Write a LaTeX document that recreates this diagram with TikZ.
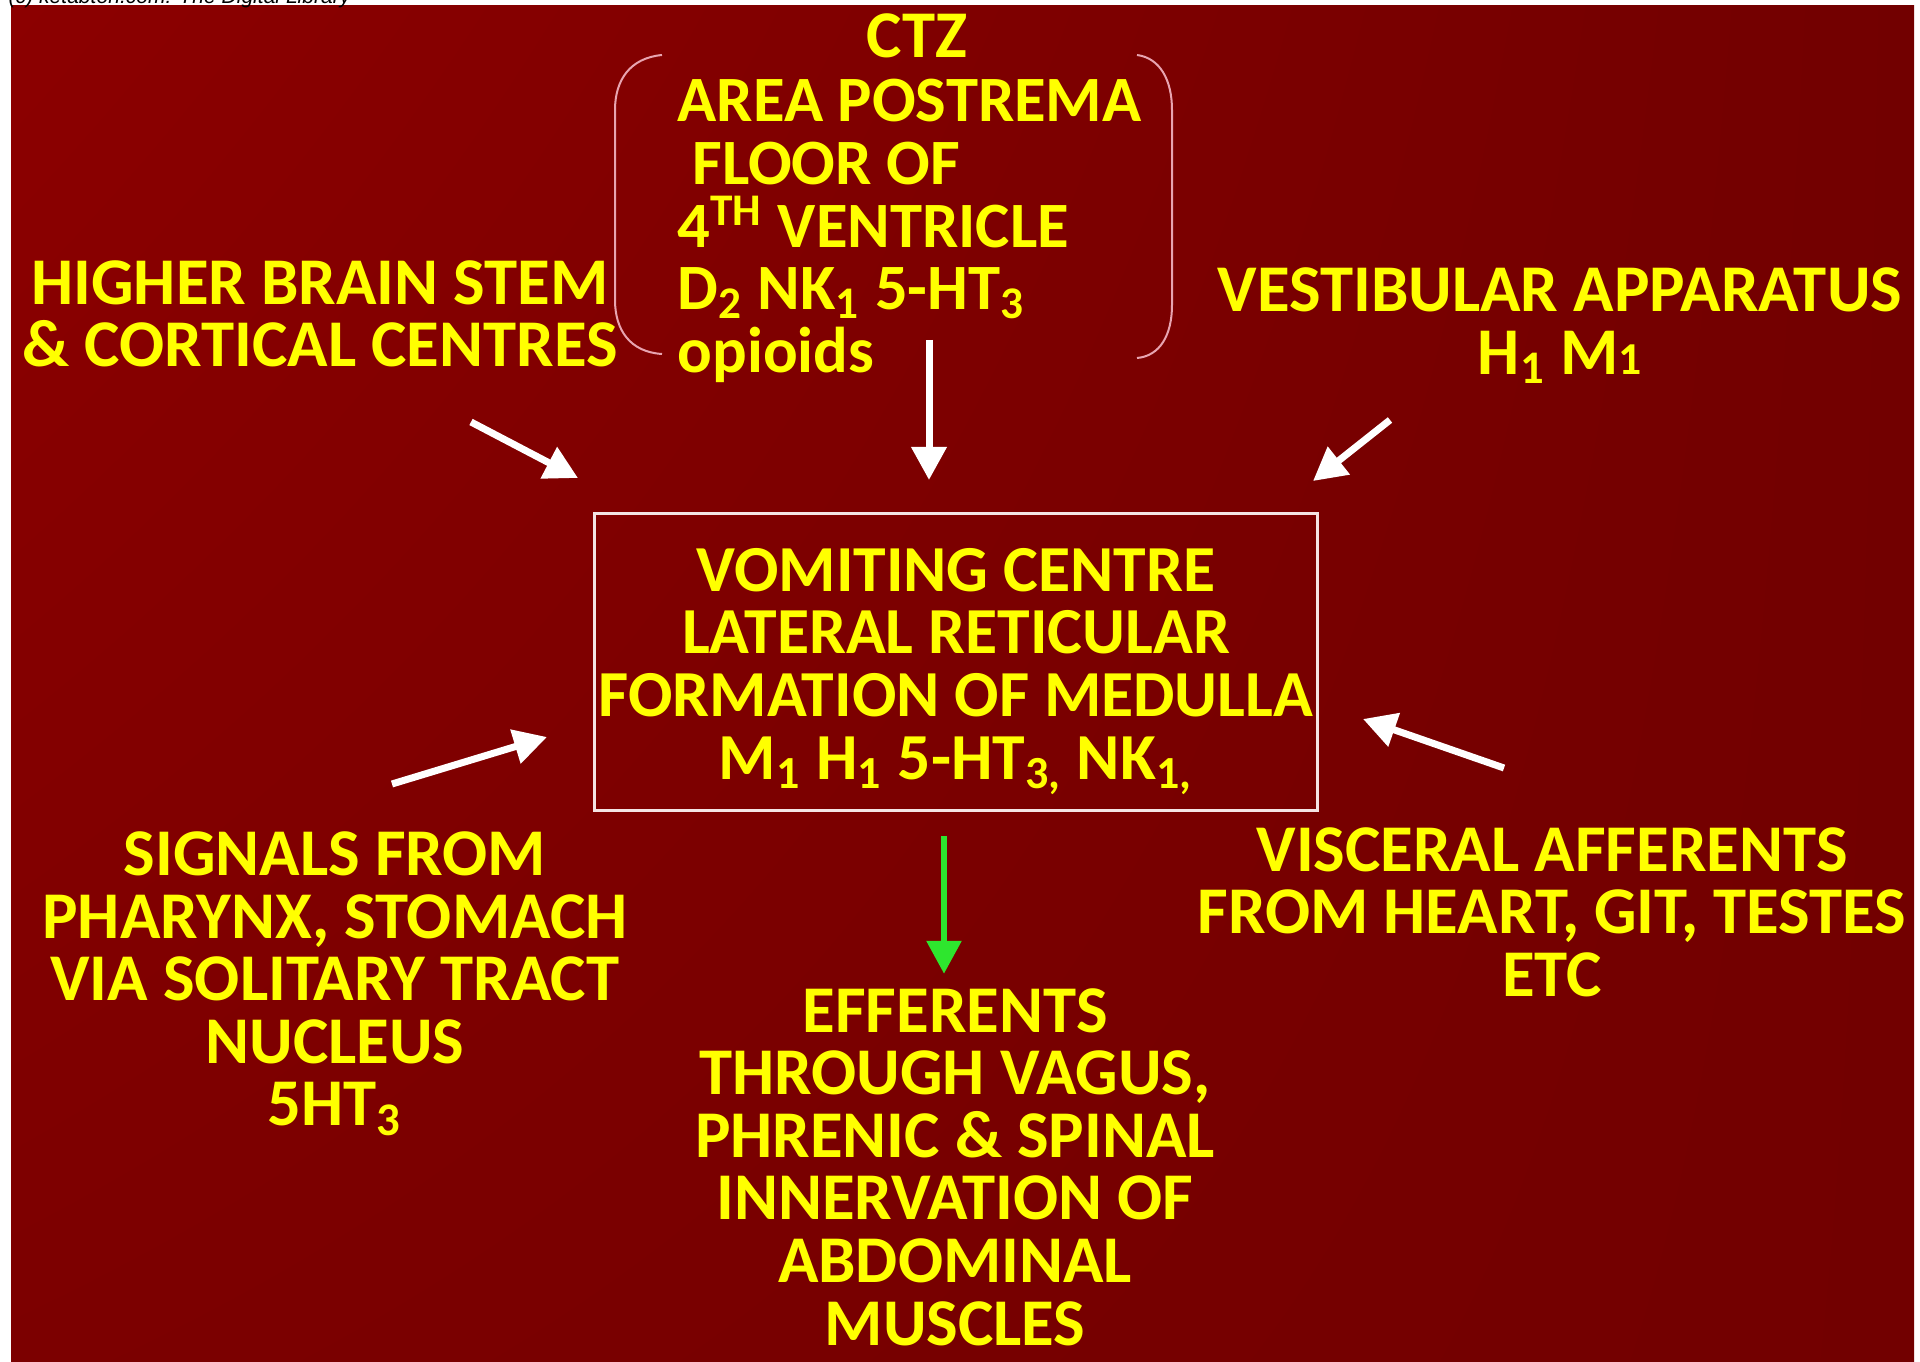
\documentclass[tikz,border=0pt]{standalone}
\usepackage{fontspec}
\setmainfont{Carlito}
\newfontfamily\wmfont{Liberation Sans}
\usepackage{xcolor}
\definecolor{VomRed}{HTML}{8C0000}
\definecolor{VomMid}{HTML}{7C0000}
\definecolor{VomDeep}{HTML}{720000}
\definecolor{VomYellow}{HTML}{FFFF00}
\definecolor{VomPink}{HTML}{E8A4B0}
\definecolor{VomFrame}{HTML}{F4E4E4}
\definecolor{VomGreen}{HTML}{2EE62E}
\usetikzlibrary{arrows.meta,positioning,shadings}

\begin{document}
\begin{tikzpicture}[
  x=0.1mm,y=-0.1mm,
  lbl/.style={text=VomYellow,font=\bfseries\fontsize{19}{17.8}\selectfont,align=center,inner sep=0pt},
  centre/.style={lbl,font=\bfseries\fontsize{18.7}{17.8}\selectfont,draw=VomFrame,line width=0.3mm,minimum width=72.3mm,minimum height=29.7mm},
  inarrow/.style={-{Triangle[length=3.3mm,width=3.4mm]},line width=0.7mm,draw=white},
  outarrow/.style={-{Triangle[length=3.3mm,width=3.4mm]},line width=0.6mm,draw=VomGreen},
  paren/.style={draw=VomPink,line width=0.2mm}
]
  \useasboundingbox[fill=white] (0,0) rectangle (1920,1362);
  \shade[upper left=VomRed,upper right=VomDeep,lower left=VomMid,lower right=VomDeep] (11,6) rectangle (1914,1362);
  \node[font=\wmfont\itshape\fontsize{6}{7}\selectfont,anchor=base west,inner sep=0pt] (wm) at (8,4) {(c) ketabton.com: The Digital Library};

  \node[centre] (vc) at (956,662) {\rule{0pt}{6.2mm}VOMITING CENTRE\\LATERAL RETICULAR\\FORMATION OF MEDULLA\\M\textsubscript{1} H\textsubscript{1} 5-HT\textsubscript{3,} NK\textsubscript{1,}};
  \node[lbl] (ctz) at (917,36) {CTZ};
  \node[lbl,font=\bfseries\fontsize{18.4}{17.8}\selectfont,align=left,anchor=west] (trigger) at (677,231) {AREA POSTREMA\\\ FLOOR OF\\4\textsuperscript{TH} VENTRICLE\\D\textsubscript{2} NK\textsubscript{1} 5-HT\textsubscript{3}\\opioids};
  \node[lbl] (higher) at (320,314) {HIGHER BRAIN STEM\\\& CORTICAL CENTRES};
  \node[lbl] (vestib) at (1560,326) {VESTIBULAR APPARATUS\\H\textsubscript{1} M{\fontsize{13}{13}\selectfont 1}};
  \node[lbl] (signals) at (335,984) {SIGNALS FROM\\PHARYNX, STOMACH\\VIA SOLITARY TRACT\\NUCLEUS\\5HT\textsubscript{3}};
  \node[lbl] (visceral) at (1552,912) {VISCERAL AFFERENTS\\FROM HEART, GIT, TESTES\\ETC};
  \node[lbl] (efferent) at (955,1167) {EFFERENTS\\THROUGH VAGUS,\\PHRENIC \& SPINAL\\INNERVATION OF\\ABDOMINAL\\MUSCLES};

  % bracket round the CTZ list
  \draw[paren] (662,55) .. controls (630,58) and (615,80) .. (615,110) -- (615,300) .. controls (615,330) and (630,352) .. (662,354);
  \draw[paren] (1137,55) .. controls (1160,58) and (1172,80) .. (1172,110) -- (1172,305) .. controls (1172,335) and (1160,356) .. (1137,358);

  \coordinate (hb1) at (471,422);  \coordinate (hb2) at (578,478);
  \coordinate (ctz1) at (929,340); \coordinate (ctz2) at (929,480);
  \coordinate (ve1) at (1390,420); \coordinate (ve2) at (1313,481);
  \coordinate (sg1) at (392,784);  \coordinate (sg2) at (547,737);
  \coordinate (vi1) at (1504,768); \coordinate (vi2) at (1363,719);
  \foreach \a/\b in {hb1/hb2,ctz1/ctz2,ve1/ve2,sg1/sg2,vi1/vi2}{\draw[inarrow] (\a) -- (\b);}
  \draw[outarrow,shorten <=2.4mm,shorten >=1.4mm] ([xshift=-1.2mm]vc.south) -- ([xshift=-1.2mm]vc.south |- efferent.north);
\end{tikzpicture}
\end{document}
